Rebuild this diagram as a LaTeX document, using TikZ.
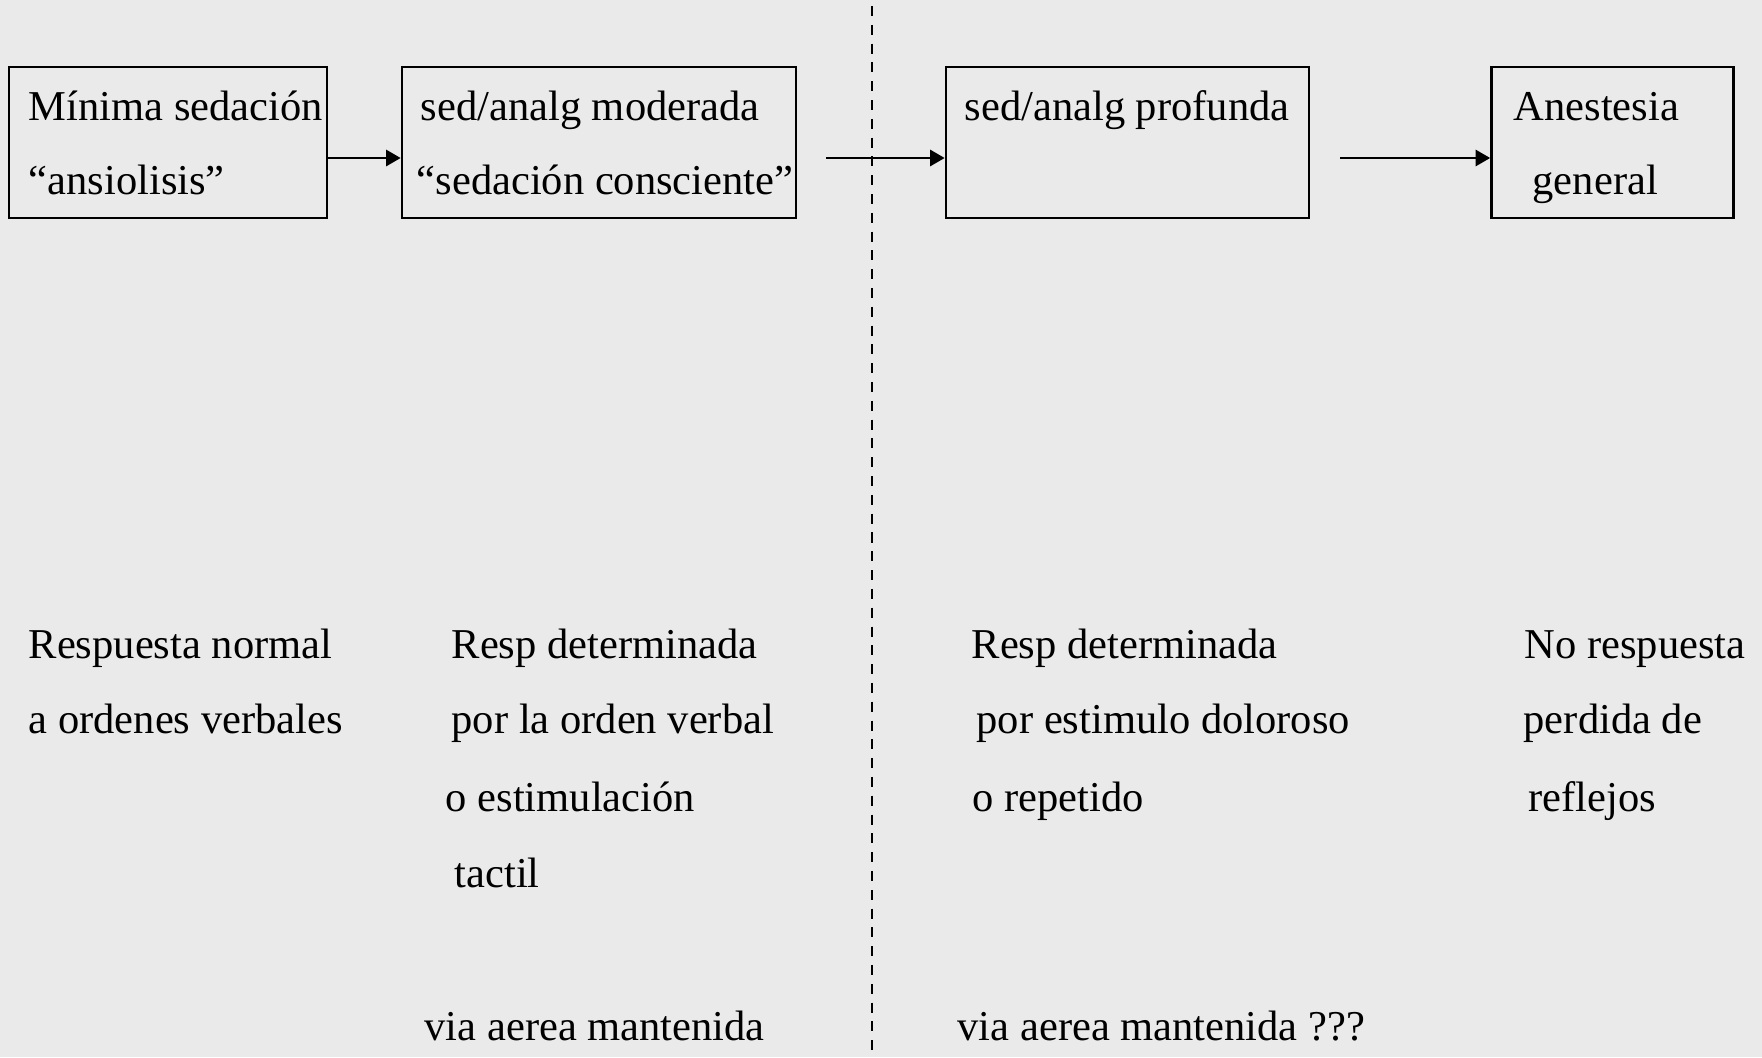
\documentclass[tikz,border=0pt]{standalone}
\usepackage{fontspec}
\setmainfont{Liberation Serif}
\usetikzlibrary{arrows.meta}
\definecolor{bg}{RGB}{234,234,234}

\begin{document}
\begin{tikzpicture}[x=1mm, y=-1mm,
                  every node/.style={inner sep=0mm, font=\fontsize{12.1}{14}\selectfont},
                  box/.style={draw, line width=0.75pt, minimum height=15.1mm},
                  txt/.style={anchor=base west},
                  arr/.style={-{Triangle[length=1.45mm, width=1.6mm]}, line width=0.75pt},
                  sep/.style={dash pattern=on 2.85pt off 2.5pt, line width=0.7pt}]

    \fill[bg] (0,0) rectangle (176.2,105.7);
    \useasboundingbox (0,0) rectangle (176.2,105.7); % same size as the original

    % the four levels
    \node[box, minimum width=31.8mm] (b1) at (16.8,14.25) {};
    \node[box, minimum width=39.4mm] (b2) at (59.9,14.25) {};
    \node[box, minimum width=36.3mm] (b3) at (112.75,14.25) {};
    \node[box, minimum width=24.2mm] (b4) at (161.25,14.25) {};

    \node[txt] (b1a) at (2.8,12.0)   {Mínima sedación};
    \node[txt] (b1b) at (2.8,19.4)   {“ansiolisis”};
    \node[txt] (b2a) at (42.0,12.0)  {sed/analg moderada};
    \node[txt] (b2b) at (41.6,19.4)  {“sedación consciente”};
    \node[txt] (b3a) at (96.4,12.0)  {sed/analg profunda};
    \node[txt] (b4a) at (151.3,12.0) {Anestesia};
    \node[txt] (b4b) at (153.2,19.4) {general};

    % free ends
    \coordinate (a2) at (82.6,15.8);
    \coordinate (a3) at (134.0,15.8);
    \coordinate (top) at (87.2,0.6);
    \coordinate (bot) at (87.2,105.7);

    \draw[arr] ([yshift=-1.55mm]b1.east) -- ([yshift=-1.55mm]b2.west);
    \draw[arr] (a2) -- (a2 -| b3.west);
    \draw[arr] (a3) -- (a3 -| b4.west);

    \draw[sep] (top) -- (bot);

    % responses
    \node[txt] (r1a) at (2.8,65.8)   {Respuesta normal};
    \node[txt] (r1b) at (2.8,73.3)   {a ordenes verbales};

    \node[txt] (r2a) at (45.1,65.8)  {Resp determinada};
    \node[txt] (r2b) at (45.1,73.3)  {por la orden verbal};
    \node[txt] (r2c) at (44.5,81.1)  {o estimulación};
    \node[txt] (r2d) at (45.4,88.7)  {tactil};
    \node[txt] (r2e) at (42.4,104.0) {via aerea mantenida};

    \node[txt] (r3a) at (97.1,65.8)  {Resp determinada};
    \node[txt] (r3b) at (97.6,73.3)  {por estimulo doloroso};
    \node[txt] (r3c) at (97.2,81.1)  {o repetido};
    \node[txt] (r3e) at (95.7,104.0) {via aerea mantenida ???};

    \node[txt] (r4a) at (152.4,65.8) {No respuesta};
    \node[txt] (r4b) at (152.3,73.3) {perdida de};
    \node[txt] (r4c) at (152.8,81.1) {reflejos};

\end{tikzpicture}
\end{document}
